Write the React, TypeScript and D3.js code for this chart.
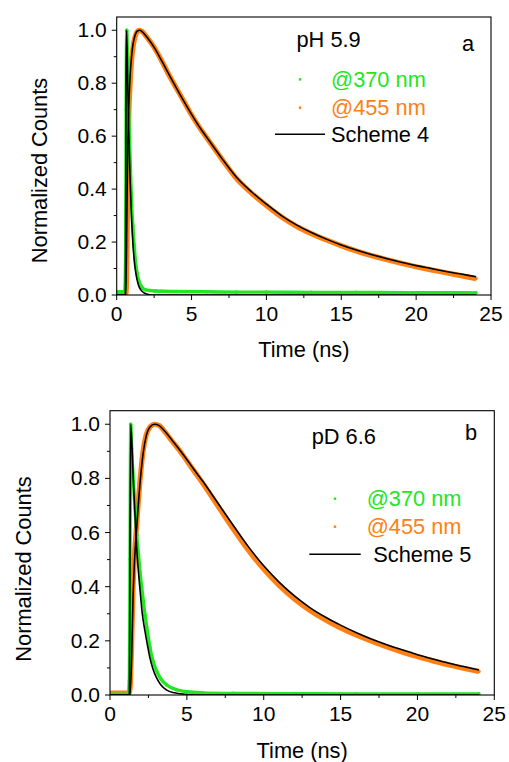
import React from "react";
import * as d3 from "d3";

// ---------- Data ----------
// Panel a: pH 5.9
const topT370 = [0, 0.3, 0.55, 0.6, 0.63, 0.67, 0.72, 0.78, 0.85, 0.92, 1.0, 1.08, 1.16, 1.25, 1.35, 1.5, 1.7, 1.9, 2.2, 2.6, 3, 4, 6, 8, 10, 13, 16, 19, 22, 24];
const topV370 = [0.012, 0.012, 0.014, 0.2, 0.7, 1.0, 0.9, 0.76, 0.6, 0.47, 0.34, 0.26, 0.19, 0.13, 0.085, 0.05, 0.028, 0.02, 0.017, 0.015, 0.014, 0.013, 0.012, 0.011, 0.011, 0.01, 0.01, 0.009, 0.009, 0.008];
const topFitT370 = [0, 0.58, 0.6, 0.63, 0.66, 0.72, 0.8, 0.9, 1.0, 1.1, 1.2, 1.3, 1.45, 1.6, 1.8, 2.0, 2.4, 24];
const topFitV370 = [0, 0, 0.3, 0.85, 1.0, 0.85, 0.63, 0.43, 0.28, 0.18, 0.115, 0.075, 0.038, 0.02, 0.009, 0.004, 0, 0];
const topT455 = [0, 0.6, 0.65, 0.7, 0.75, 0.8, 0.9, 1.0, 1.1, 1.25, 1.4, 1.55, 1.7, 2.0, 2.5, 3.0, 3.5, 4.0, 4.5, 5.0, 5.5, 6.0, 7, 8, 9, 10, 11, 12, 13, 14, 15, 16, 17, 18, 19, 20, 21, 22, 23, 24];
const topV455 = [0, 0, 0.04, 0.25, 0.5, 0.66, 0.8, 0.89, 0.94, 0.98, 0.997, 1.0, 0.995, 0.975, 0.935, 0.885, 0.83, 0.78, 0.73, 0.68, 0.635, 0.595, 0.515, 0.44, 0.385, 0.338, 0.295, 0.26, 0.232, 0.208, 0.186, 0.166, 0.149, 0.134, 0.12, 0.107, 0.095, 0.084, 0.073, 0.062];
const topFitV455 = [0, 0, 0.15, 0.4, 0.58, 0.7, 0.83, 0.905, 0.95, 0.985, 0.998, 1.0, 0.995, 0.975, 0.935, 0.885, 0.832, 0.78, 0.73, 0.682, 0.637, 0.597, 0.518, 0.445, 0.39, 0.343, 0.3, 0.265, 0.236, 0.211, 0.189, 0.17, 0.153, 0.138, 0.124, 0.111, 0.1, 0.089, 0.079, 0.069];

// Panel b: pD 6.6
const botT370 = [0, 1.2, 1.26, 1.3, 1.35, 1.41, 1.52, 1.63, 1.74, 1.85, 1.95, 2.06, 2.17, 2.28, 2.39, 2.5, 2.6, 2.8, 3.04, 3.3, 3.69, 4.3, 5, 6, 8, 12, 16, 20, 24];
const botV370 = [0.003, 0.003, 0.05, 0.5, 1.0, 0.91, 0.79, 0.69, 0.59, 0.52, 0.455, 0.4, 0.345, 0.295, 0.25, 0.21, 0.175, 0.125, 0.088, 0.06, 0.037, 0.02, 0.012, 0.008, 0.006, 0.005, 0.004, 0.004, 0.004];
const botFitT370 = [0, 1.26, 1.3, 1.35, 1.52, 1.74, 1.95, 2.1, 2.28, 2.45, 2.6, 2.8, 3.04, 3.3, 3.69, 4.2, 5, 6, 24];
const botFitV370 = [0, 0, 0.5, 1.0, 0.79, 0.54, 0.39, 0.3, 0.234, 0.18, 0.136, 0.095, 0.062, 0.038, 0.018, 0.008, 0.002, 0, 0];
const botT455 = [0, 1.25, 1.3, 1.4, 1.5, 1.6, 1.75, 1.95, 2.15, 2.35, 2.6, 2.9, 3.2, 3.6, 4.0, 4.5, 5.0, 5.5, 6.0, 7, 8, 9, 10, 11, 12, 13, 14, 15, 16, 17, 18, 19, 20, 21, 22, 23, 24];
const botV455 = [0.007, 0.007, 0.02, 0.17, 0.4, 0.52, 0.64, 0.79, 0.9, 0.96, 0.99, 1.0, 0.995, 0.97, 0.94, 0.905, 0.865, 0.825, 0.785, 0.7, 0.615, 0.535, 0.465, 0.405, 0.355, 0.313, 0.278, 0.248, 0.222, 0.199, 0.178, 0.159, 0.142, 0.126, 0.112, 0.099, 0.087];
const botFitV455 = [0, 0, 0, 0.12, 0.36, 0.5, 0.63, 0.78, 0.89, 0.955, 0.99, 1.0, 0.995, 0.972, 0.944, 0.908, 0.87, 0.83, 0.792, 0.71, 0.628, 0.548, 0.477, 0.417, 0.366, 0.323, 0.288, 0.258, 0.231, 0.207, 0.186, 0.167, 0.149, 0.133, 0.118, 0.105, 0.092];

const xTicks = [0, 5, 10, 15, 20, 25];
const xMinorTicks = [2.5, 7.5, 12.5, 17.5, 22.5];
const yTicks = [0, 0.2, 0.4, 0.6, 0.8, 1.0];
const yMinorTicks = [0.1, 0.3, 0.5, 0.7, 0.9];
const legendLabels = ["@370 nm", "@455 nm"];

const GREEN = "#22e622";
const ORANGE = "#ff8012";
const FONT = "'Liberation Sans', Arial, Helvetica, sans-serif";
const FS = 21.8;
const TICK_FS = 21;

type Series = { t: number[]; v: number[] };

function zip(s: Series) {
  return s.t.map((t, i) => [t, s.v[i]] as [number, number]);
}

type PanelProps = {
  id: string;
  left: number; right: number; top: number; bottom: number;
  d370: Series; f370: Series; d455: Series; f455: Series;
  title: string; letter: string; scheme: string;
  titleX: number; titleY: number; letterX: number; letterY: number;
  legX: number; legY: number[]; dotX: number; lineX: [number, number]; schemeX: number;
  ylabX: number; ylabY: number; xlabY: number;
};

function Panel(p: PanelProps) {
  const x = d3.scaleLinear().domain([0, 25]).range([p.left, p.right]);
  const y = d3.scaleLinear().domain([0, 1.05]).range([p.bottom, p.top]);
  const line = d3.line<[number, number]>().x(d => x(d[0])).y(d => y(d[1])).curve(d3.curveMonotoneX);
  const clip = `clip-${p.id}`;
  const d370 = zip(p.d370), d455 = zip(p.d455), f370 = zip(p.f370), f455 = zip(p.f455);
  return (
    <g>
      <defs>
        <clipPath id={clip}>
          <rect x={p.left} y={p.top} width={p.right - p.left} height={p.bottom - p.top} />
        </clipPath>
      </defs>
      <g clipPath={`url(#${clip})`}>
        <path d={line(d455) || ""} fill="none" stroke={ORANGE} strokeWidth={5.2} strokeLinejoin="round" />
        {d455.map((d, i) => <circle key={"o" + i} cx={x(d[0])} cy={y(d[1])} r={1.8} fill={ORANGE} />)}
        <path d={line(d370) || ""} fill="none" stroke={GREEN} strokeWidth={3.4} strokeLinejoin="round" />
        {d370.map((d, i) => <circle key={"g" + i} cx={x(d[0])} cy={y(d[1])} r={1.8} fill={GREEN} />)}
        <path d={line(f455) || ""} fill="none" stroke="#000" strokeWidth={1.6} />
        <path d={line(f370) || ""} fill="none" stroke="#000" strokeWidth={1.6} />
      </g>
      <rect x={p.left} y={p.top} width={p.right - p.left} height={p.bottom - p.top} fill="none" stroke="#000" strokeWidth={1.1} />
      {xTicks.map(t => (
        <g key={"xt" + t}>
          <line x1={x(t)} x2={x(t)} y1={p.bottom} y2={p.bottom + 5} stroke="#000" strokeWidth={1} />
          <text x={x(t)} y={p.bottom + 26} textAnchor="middle" fontSize={TICK_FS} fontFamily={FONT}>{t}</text>
        </g>
      ))}
      {xMinorTicks.map(t => (
        <line key={"xm" + t} x1={x(t)} x2={x(t)} y1={p.bottom} y2={p.bottom + 3} stroke="#000" strokeWidth={1} />
      ))}
      {yTicks.map(t => (
        <g key={"yt" + t}>
          <line x1={p.left - 5} x2={p.left} y1={y(t)} y2={y(t)} stroke="#000" strokeWidth={1} />
          <text x={p.left - 10} y={y(t) + 7} textAnchor="end" fontSize={TICK_FS} fontFamily={FONT}>{t.toFixed(1)}</text>
        </g>
      ))}
      {yMinorTicks.map(t => (
        <line key={"ym" + t} x1={p.left - 3} x2={p.left} y1={y(t)} y2={y(t)} stroke="#000" strokeWidth={1} />
      ))}
      <text x={(p.left + p.right) / 2} y={p.xlabY} textAnchor="middle" fontSize={FS} fontFamily={FONT}>Time (ns)</text>
      <text transform={`translate(${p.ylabX},${p.ylabY}) rotate(-90)`} textAnchor="middle" fontSize={FS} fontFamily={FONT}>Normalized Counts</text>
      <text x={p.titleX} y={p.titleY} fontSize={FS} fontFamily={FONT}>{p.title}</text>
      <text x={p.letterX} y={p.letterY} fontSize={FS} fontFamily={FONT}>{p.letter}</text>
      <rect x={p.dotX - 1.2} y={p.legY[0] - 8.5} width={2.4} height={2.4} fill={GREEN} />
      <text x={p.legX} y={p.legY[0]} fontSize={FS} fontFamily={FONT} fill={GREEN}>{legendLabels[0]}</text>
      <rect x={p.dotX - 1.2} y={p.legY[1] - 8.5} width={2.4} height={2.4} fill={ORANGE} />
      <text x={p.legX} y={p.legY[1]} fontSize={FS} fontFamily={FONT} fill={ORANGE}>{legendLabels[1]}</text>
      <line x1={p.lineX[0]} x2={p.lineX[1]} y1={p.legY[2] - 7.5} y2={p.legY[2] - 7.5} stroke="#000" strokeWidth={1.4} />
      <text x={p.schemeX} y={p.legY[2]} fontSize={FS} fontFamily={FONT}>{p.scheme}</text>
    </g>
  );
}

export default function App() {
  return (
    <svg width={509} height={762} style={{ position: "absolute", left: 0, top: 0, background: "#fff" }}>
      <rect width={509} height={762} fill="#fff" />
      <Panel
        id="a"
        left={116.7} right={491} top={17} bottom={295}
        d370={{ t: topT370, v: topV370 }} f370={{ t: topFitT370, v: topFitV370 }}
        d455={{ t: topT455, v: topV455 }} f455={{ t: topT455, v: topFitV455 }}
        title="pH 5.9" letter="a" scheme="Scheme 4"
        titleX={296.5} titleY={46.7} letterX={462} letterY={50.7}
        legX={331} legY={[86.7, 115, 141.7]} dotX={300} lineX={[275, 325]} schemeX={331}
        ylabX={46.5} ylabY={170.5} xlabY={357}
      />
      <Panel
        id="b"
        left={110} right={494.3} top={410.7} bottom={695}
        d370={{ t: botT370, v: botV370 }} f370={{ t: botFitT370, v: botFitV370 }}
        d455={{ t: botT455, v: botV455 }} f455={{ t: botT455, v: botFitV455 }}
        title="pD 6.6" letter="b" scheme="Scheme 5"
        titleX={311.7} titleY={444} letterX={465} letterY={440}
        legX={366.7} legY={[506, 534, 561.7]} dotX={335} lineX={[309.3, 360.7]} schemeX={373.3}
        ylabX={31} ylabY={569} xlabY={758}
      />
    </svg>
  );
}
